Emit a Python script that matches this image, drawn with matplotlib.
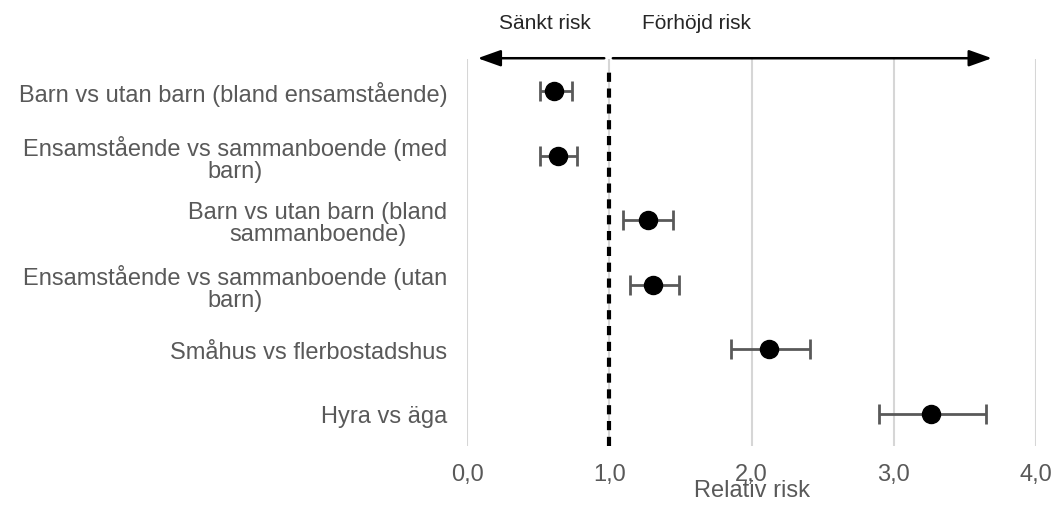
import matplotlib
matplotlib.use("Agg")
import matplotlib.pyplot as plt

categories = [
    "Barn vs utan barn (bland ensamstående)",
    "Ensamstående vs sammanboende (med\nbarn)",
    "Barn vs utan barn (bland\nsammanboende)",
    "Ensamstående vs sammanboende (utan\nbarn)",
    "Småhus vs flerbostadshus",
    "Hyra vs äga",
]
rr = [0.61, 0.64, 1.27, 1.31, 2.12, 3.26]
ci_low = [0.51, 0.51, 1.10, 1.145, 1.855, 2.895]
ci_high = [0.735, 0.775, 1.445, 1.49, 2.41, 3.645]
xticks = [0.0, 1.0, 2.0, 3.0, 4.0]
xticklabels = ["0,0", "1,0", "2,0", "3,0", "4,0"]

plt.rcParams['font.family'] = ['Liberation Sans', 'DejaVu Sans']

fig = plt.figure(figsize=(10.62, 5.06), dpi=100)
ax = fig.add_axes([467/1062, 1-447/506, (1036-467)/1062, 387/506])

ypos = list(range(len(categories)))
xerr = [[r - l for r, l in zip(rr, ci_low)], [h - r for r, h in zip(rr, ci_high)]]
ax.errorbar(rr, ypos, xerr=xerr, fmt='none', ecolor='#595959', elinewidth=2,
            capsize=7.5, capthick=2, zorder=3)
ax.plot(rr, ypos, 'o', color='black', markersize=13, zorder=4)

ax.axvline(1.0, color='black', lw=3, ls=(0, (2.2, 1.6)), ymax=0.97, zorder=2)

ax.set_xlim(0, 4)
ax.set_ylim(5.5, -0.5)
ax.set_xticks(xticks)
ax.set_xticklabels(xticklabels)
ax.set_yticks(ypos)
ax.set_yticklabels(categories, multialignment='center', linespacing=1.02)
ax.tick_params(axis='both', length=0, labelsize=17, labelcolor='#595959')
ax.tick_params(axis='y', pad=14)
ax.tick_params(axis='x', pad=12)
ax.grid(axis='x', color='#d6d6d6', lw=1.5)
ax.set_axisbelow(True)
for s in ax.spines.values():
    s.set_visible(False)

ax.set_xlabel("Relativ risk", fontsize=17, color='#595959', labelpad=-4)

trans = ax.get_xaxis_transform()
astyle = '-|>,head_length=1.4,head_width=0.5'
ax.annotate("", xy=(0.075, 1.002), xytext=(0.965, 1.002), xycoords=trans,
            textcoords=trans,
            arrowprops=dict(arrowstyle=astyle, color='black', lw=1.8,
                            shrinkA=0, shrinkB=0),
            annotation_clip=False)
ax.annotate("", xy=(3.69, 1.002), xytext=(1.025, 1.002), xycoords=trans,
            textcoords=trans,
            arrowprops=dict(arrowstyle=astyle, color='black', lw=1.8,
                            shrinkA=0, shrinkB=0),
            annotation_clip=False)

fig.text(545/1062, 1-24/506, "Sänkt risk", ha='center', va='center',
         fontsize=15, color='#262626')
fig.text(697/1062, 1-24/506, "Förhöjd risk", ha='center', va='center',
         fontsize=15, color='#262626')

fig.savefig("out.png", dpi=100)
